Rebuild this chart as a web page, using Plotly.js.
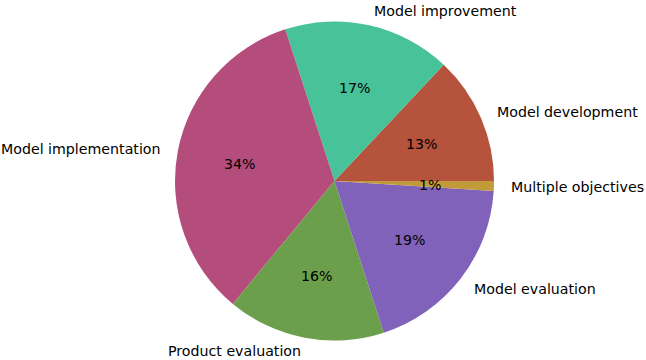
<!DOCTYPE html>
<html>
<head>
<meta charset="utf-8">
<script src="https://cdn.plot.ly/plotly-3.0.1.min.js"></script>
<style>
  html, body { margin: 0; padding: 0; background: #fff; }
  #chart { width: 646px; height: 360px; }
</style>
</head>
<body>
<div id="chart"></div>
<script>
// Share of work by objective
const categories = [
  "Model development",
  "Model improvement",
  "Model implementation",
  "Product evaluation",
  "Model evaluation",
  "Multiple objectives"
];
const shares = [13, 17, 34, 16, 19, 1];
const sliceColors = ["#b5533c", "#48c299", "#b54d7c", "#6c9f4b", "#8062ba", "#c19a3a"];

// Pie geometry (pixels)
const W = 646, H = 360;
const cx = 334.5, cy = 181, R = 159.5;
const textDrop = 0.8;   // small downward nudge so glyphs sit centred on their anchor
const edgeRoom = 9.5;   // keep label boxes inside the page

const font = { family: "DejaVu Sans, sans-serif", size: 14.2, color: "#000" };

// Label positions follow each slice's mid-angle, counter-clockwise from 3 o'clock
const total = shares.reduce((a, b) => a + b, 0);
const annotations = [];
let start = 0;
shares.forEach((v, i) => {
  const sweep = v / total * 360;
  const mid = (start + sweep / 2) * Math.PI / 180;
  start += sweep;
  const c = Math.cos(mid), s = Math.sin(mid);
  // category name just outside the rim
  let ly = cy - 1.1 * R * s + textDrop;
  ly = Math.min(Math.max(ly, edgeRoom), H - edgeRoom);
  annotations.push({
    xref: "paper", yref: "paper",
    x: (cx + 1.1 * R * c) / W,
    y: 1 - ly / H,
    text: categories[i],
    showarrow: false,
    xanchor: c >= 0 ? "left" : "right",
    yanchor: "middle",
    borderpad: 0,
    font: font
  });
  // percentage inside the slice
  annotations.push({
    xref: "paper", yref: "paper",
    x: (cx + 0.6 * R * c) / W,
    y: 1 - (cy - 0.6 * R * s + textDrop) / H,
    text: Math.round(v / total * 100) + "%",
    showarrow: false,
    xanchor: "center",
    yanchor: "middle",
    borderpad: 0,
    font: font
  });
});

// Plotly's counter-clockwise layout ends the first slice at the rotation angle,
// so shift by the first slice's sweep to start it at 3 o'clock.
const firstSweep = shares[0] / total * 360;

const trace = {
  type: "pie",
  labels: categories,
  values: shares,
  sort: false,
  direction: "counterclockwise",
  rotation: 90 - firstSweep,
  textinfo: "none",
  hoverinfo: "label+percent",
  marker: { colors: sliceColors, line: { width: 0 } },
  domain: {
    x: [(cx - R) / W, (cx + R) / W],
    y: [1 - (cy + R) / H, 1 - (cy - R) / H]
  }
};

const layout = {
  width: W,
  height: H,
  margin: { l: 0, r: 0, t: 0, b: 0 },
  paper_bgcolor: "#fff",
  showlegend: false,
  annotations: annotations
};

Plotly.newPlot("chart", [trace], layout, { displayModeBar: false, staticPlot: true });
</script>
</body>
</html>
